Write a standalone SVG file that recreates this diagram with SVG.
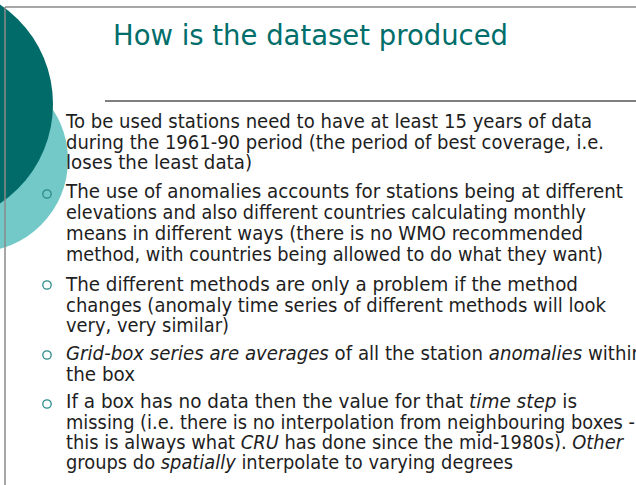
<svg xmlns="http://www.w3.org/2000/svg" width="636" height="485" viewBox="0 0 636 485">
<style>
.body{font-family:"DejaVu Sans","Noto Sans",sans-serif;font-size:19px;fill:#1e1e1e}
.title{font-family:"DejaVu Sans","Noto Sans",sans-serif;font-size:29px;fill:#006e6a}
.bullet{fill:none;stroke:#2a8a88;stroke-width:1.3}
.it{font-style:italic}
</style>
<rect width="636" height="485" fill="#ffffff"/>
<g id="decor">
<circle cx="-24" cy="160" r="92" fill="#72c9c8"/>
<circle cx="-67" cy="104" r="120" fill="#006b68"/>
<line x1="5" y1="7" x2="636" y2="7" stroke="#8a8a8a" stroke-width="1.5"/>
<line x1="5" y1="7" x2="5" y2="485" stroke="#8a8a8a" stroke-width="1.5"/>
<line x1="105" y1="101" x2="636" y2="101" stroke="#555555" stroke-width="1.3"/>
</g>
<g id="title">
<text class="title" x="113" y="45" textLength="395" lengthAdjust="spacingAndGlyphs">How is the dataset produced</text>
</g>
<g id="bullets">
<circle class="bullet" cx="47" cy="194" r="4.2"/>
<circle class="bullet" cx="47" cy="285" r="4.2"/>
<circle class="bullet" cx="47" cy="355" r="4.2"/>
<circle class="bullet" cx="47" cy="404" r="4.2"/>
</g>
<g id="para1">
<text class="body" x="66" y="128" textLength="526" lengthAdjust="spacingAndGlyphs">To be used stations need to have at least 15 years of data</text>
<text class="body" x="66" y="148.5" textLength="538" lengthAdjust="spacingAndGlyphs">during the 1961-90 period (the period of best coverage, i.e.</text>
<text class="body" x="66" y="169" textLength="186" lengthAdjust="spacingAndGlyphs">loses the least data)</text>
</g>
<g id="para2">
<text class="body" x="66" y="198" textLength="557" lengthAdjust="spacingAndGlyphs">The use of anomalies accounts for stations being at different</text>
<text class="body" x="66" y="219" textLength="520" lengthAdjust="spacingAndGlyphs">elevations and also different countries calculating monthly</text>
<text class="body" x="66" y="240" textLength="517" lengthAdjust="spacingAndGlyphs">means in different ways (there is no WMO recommended</text>
<text class="body" x="66" y="261" textLength="537" lengthAdjust="spacingAndGlyphs">method, with countries being allowed to do what they want)</text>
</g>
<g id="para3">
<text class="body" x="66" y="290.5" textLength="512" lengthAdjust="spacingAndGlyphs">The different methods are only a problem if the method</text>
<text class="body" x="66" y="311.5" textLength="540" lengthAdjust="spacingAndGlyphs">changes (anomaly time series of different methods will look</text>
<text class="body" x="66" y="331.5" textLength="163" lengthAdjust="spacingAndGlyphs">very, very similar)</text>
</g>
<g id="para4">
<text class="body" x="66" y="360" textLength="577" lengthAdjust="spacingAndGlyphs"><tspan class="it">Grid-box series are averages</tspan> of all the station <tspan class="it">anomalies</tspan> within</text>
<text class="body" x="66" y="381" textLength="69" lengthAdjust="spacingAndGlyphs">the box</text>
</g>
<g id="para5">
<text class="body" x="66" y="408" textLength="511" lengthAdjust="spacingAndGlyphs">If a box has no data then the value for that <tspan class="it">time step</tspan> is</text>
<text class="body" x="66" y="429" textLength="569" lengthAdjust="spacingAndGlyphs">missing (i.e. there is no interpolation from neighbouring boxes -</text>
<text class="body" x="66" y="449" textLength="557" lengthAdjust="spacingAndGlyphs">this is always what <tspan class="it">CRU</tspan> has done since the mid-1980s). <tspan class="it">Other</tspan></text>
<text class="body" x="66" y="469" textLength="447" lengthAdjust="spacingAndGlyphs">groups do <tspan class="it">spatially</tspan> interpolate to varying degrees</text>
</g>
</svg>
